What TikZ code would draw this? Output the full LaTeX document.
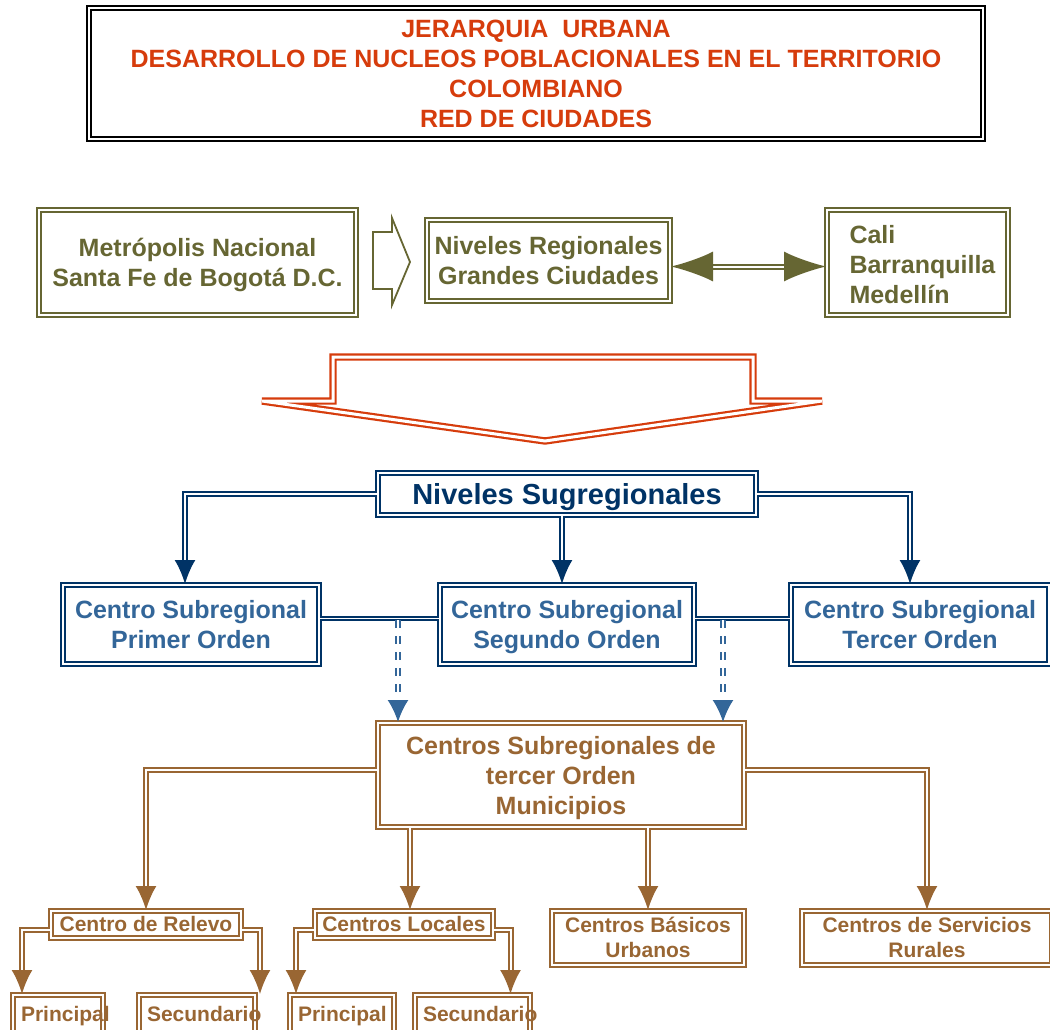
\documentclass[tikz,border=0pt]{standalone}
\usepackage{fontspec}
\setmainfont{Liberation Sans}
\usepackage{tikz}
\usetikzlibrary{arrows.meta,positioning,calc}
\definecolor{colorRd}{RGB}{214,60,12}
\definecolor{colorOl}{RGB}{102,102,51}
\definecolor{colorNv}{RGB}{0,51,102}
\definecolor{colorSt}{RGB}{51,102,153}
\definecolor{colorBr}{RGB}{153,102,51}
\tikzstyle{caja}=[draw, double, line width=2pt, double distance=2pt, inner sep=0pt, align=center]
\tikzstyle{cajaOl}=[caja, draw=colorOl, text=colorOl]
\tikzstyle{cajaNv}=[caja, draw=colorNv, text=colorSt]
\tikzstyle{cajaBr}=[caja, draw=colorBr, text=colorBr]
\tikzstyle{grande}=[font=\fontsize{25}{30}\selectfont\bfseries, text depth=-2pt]
\tikzstyle{chica}=[font=\fontsize{21}{25}\selectfont\bfseries, text depth=2pt]
\tikzstyle{con}=[double, line width=2pt, double distance=2pt, -{Latex[length=24pt,width=21pt]}]
\tikzstyle{conNv}=[con, draw=colorNv]
\tikzstyle{conBr}=[con, draw=colorBr]
\tikzstyle{conSt}=[con, draw=colorSt, dash pattern=on 8pt off 8pt, -{Latex[length=22pt,width=21pt]}]
\tikzstyle{liga}=[double, line width=1.8pt, double distance=1.6pt]

\begin{document}
\begin{tikzpicture}[x=1pt,y=-1pt]
\useasboundingbox (0,0) rectangle (1050,1030);

% titulo
\node (titleJerarquia) [caja, line width=2.5pt, double distance=1.5pt, draw=black, text=colorRd, grande, text depth=-4pt, minimum width=894, minimum height=131] at (536,73.5)
  {JERARQUIA\ \ URBANA\\DESARROLLO DE NUCLEOS POBLACIONALES EN EL TERRITORIO\\COLOMBIANO\\RED DE CIUDADES};

% niveles regionales
\node (metropolis) [cajaOl, grande, minimum width=317, minimum height=105] at (197.5,262.5) {Metrópolis Nacional\\Santa Fe de Bogotá D.C.};
\node (regionales) [cajaOl, grande, minimum width=243, minimum height=81] at (548.5,260.5) {Niveles Regionales\\Grandes Ciudades};
\node (ciudades) [cajaOl, grande, text depth=57pt, align=left, text width=136pt, minimum width=181, minimum height=105] at (917.5,262.5) {Cali\\\mbox{Barranquilla}\\Medellín};
\draw [colorOl, line width=1.8pt] (373,232) -- (392,232) -- (392,218) -- (410,262) -- (392,305) -- (392,289) -- (373,289) -- cycle;
\draw [con, draw=colorOl, {Latex[length=42pt,width=30pt]}-{Latex[length=42pt,width=30pt]}] ([yshift=-6]regionales.east) -- ([yshift=-6]regionales.east -| ciudades.west);

% flecha grande
\draw [colorRd, double, line width=2.2pt, double distance=3pt] (333,357) -- (753,357) -- (753,401) -- (822,401) -- (545,441) -- (262,401) -- (333,401) -- cycle;

% niveles subregionales
\node (subregionales) [caja, draw=colorNv, text=colorNv, font=\fontsize{29}{34}\selectfont\bfseries, text depth=-1pt, minimum width=378, minimum height=42] at (567,494) {Niveles Sugregionales};
\node (subPrimer) [cajaNv, grande, minimum width=256, minimum height=79] at (191,624.5) {Centro Subregional\\Primer Orden};
\node (subSegundo) [cajaNv, grande, minimum width=254, minimum height=79] at (567,624.5) {Centro Subregional\\Segundo Orden};
\node (subTercer) [cajaNv, grande, minimum width=258, minimum height=79] at (920,624.5) {Centro Subregional\\Tercer Orden};
\draw [conNv] (subregionales.west) -| ([xshift=-6]subPrimer.north);
\draw [conNv] ([xshift=-5]subregionales.south) -- ([xshift=-5]subSegundo.north);
\draw [conNv] (subregionales.east) -| ([xshift=-10]subTercer.north);
\draw [liga, draw=colorNv] ([yshift=6]subPrimer.east) -- ([yshift=6]subPrimer.east -| subSegundo.west);
\draw [liga, draw=colorNv] ([yshift=6]subSegundo.east) -- ([yshift=6]subSegundo.east -| subTercer.west);

% municipios
\node (municipios) [cajaBr, grande, minimum width=366, minimum height=104] at (561,775) {Centros Subregionales de\\tercer Orden\\Municipios};
\coordinate (bajada1) at (398,620);
\coordinate (bajada2) at (723,620);
\draw [conSt] (bajada1) -- (bajada1 |- municipios.north);
\draw [conSt] (bajada2) -- (bajada2 |- municipios.north);

\node (relevo) [cajaBr, chica, minimum width=190, minimum height=27] at (146,924.5) {Centro de Relevo};
\node (locales) [cajaBr, chica, minimum width=178, minimum height=27] at (404,924.5) {Centros Locales};
\node (basicos) [cajaBr, chica, minimum width=192, minimum height=54] at (648,938) {Centros Básicos\\Urbanos};
\node (rurales) [cajaBr, chica, minimum width=250, minimum height=54] at (927,938) {Centros de Servicios\\Rurales};
\draw [conBr] ([yshift=5]municipios.west) -| (relevo.north);
\draw [conBr] ([xshift=6]locales.north |- municipios.south) -- ([xshift=6]locales.north);
\draw [conBr] (basicos.north |- municipios.south) -- (basicos.north);
\draw [conBr] ([yshift=5]municipios.east) -| (rurales.north);

% principal / secundario
\node (relPrincipal) [cajaBr, chica, inner xsep=8pt, minimum height=39] at (58,1014.5) {\makebox[74pt][l]{Principal}};
\node (relSecundario) [cajaBr, chica, inner xsep=8pt, minimum height=39] at (197,1014.5) {\makebox[100pt][l]{Secundario}};
\node (locPrincipal) [cajaBr, chica, inner xsep=8pt, minimum height=39] at (342,1014.5) {\makebox[88pt][l]{Principal}};
\node (locSecundario) [cajaBr, chica, inner xsep=8pt, minimum height=39] at (472.5,1014.5) {\makebox[99pt][l]{Secundario}};
\draw [conBr] ([yshift=-5]relevo.west) -| ([xshift=-36]relPrincipal.north);
\draw [conBr] ([yshift=-5]relevo.east) -| ([xshift=63]relSecundario.north);
\draw [conBr] ([yshift=-5]locales.west) -| ([xshift=-46]locPrincipal.north);
\draw [conBr] ([yshift=-5]locales.east) -| ([xshift=38]locSecundario.north);

\end{tikzpicture}
\end{document}
